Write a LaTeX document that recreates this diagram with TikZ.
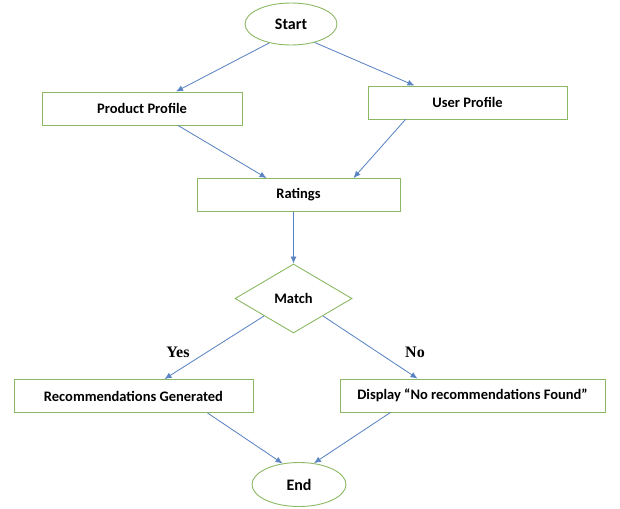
\documentclass[tikz,border=0pt]{standalone}
\usepackage{fontspec}
\setmainfont{Carlito}
\newfontfamily\labelfont{Liberation Serif}
\usetikzlibrary{shapes.geometric, arrows.meta, positioning}
\definecolor{BoxGreen}{HTML}{8CB863}
\definecolor{LineBlue}{HTML}{5B84C4}
\tikzset{
  terminal/.style={ellipse, draw=BoxGreen, line width=0.9pt, minimum width=92pt, minimum height=42pt, inner sep=0pt, font=\bfseries\fontsize{16}{18}\selectfont},
  process/.style={rectangle, draw=BoxGreen, line width=0.9pt, minimum height=33pt, inner sep=0pt, align=center, font=\bfseries\fontsize{14.5}{17}\selectfont},
  decision/.style={diamond, draw=BoxGreen, line width=0.9pt, minimum width=117pt, minimum height=69pt, aspect=1.7, inner sep=0pt, font=\bfseries\fontsize{14.5}{17}\selectfont},
  arrow/.style={-{Latex[length=7pt,width=6pt]}, draw=LineBlue, fill=LineBlue, line width=0.8pt},
  answer/.style={font=\labelfont\bfseries\fontsize{16}{18}\selectfont}
}

\begin{document}
\begin{tikzpicture}[x=1pt, y=-1pt]
            \useasboundingbox (0,0) rectangle (620,508);
            \node (start) [terminal] at (291,24) {Start};
            \node (product) [process, minimum width=200pt] at (142,108.5) {Product Profile};
            \node (user) [process, minimum width=199pt] at (467.5,102.5) {User Profile};
            \node (ratings) [process, minimum width=203pt] at (298.5,195) {Ratings};
            \node (match) [decision] at (293.5,298.5) {Match};
            \node (found) [process, minimum width=239pt] at (133.5,396) {Recommendations Generated};
            \node (notfound) [process, minimum width=265pt] at (472.5,395.5) {Display “No recommendations Found”};
            \node (end) [terminal, minimum width=94pt, minimum height=44pt] at (299,484.5) {End};
            \node (yes) [answer] at (178,352) {Yes};
            \node (no) [answer] at (415,352) {No};
            \draw [arrow] (start.221) -- ([xshift=34pt]product.north);
            \draw [arrow] (start.322) -- ([xshift=-53pt]user.north);
            \draw [arrow] ([xshift=36pt]product.south) -- ([xshift=-32pt]ratings.north);
            \draw [arrow] ([xshift=-62pt]user.south) -- ([xshift=55pt]ratings.north);
            \draw [arrow] ([xshift=-5pt]ratings.south) -- (match.north);
            \draw [arrow] (match.south west) -- ([xshift=31pt]found.north);
            \draw [arrow] (match.south east) -- ([xshift=-55pt]notfound.north);
            \draw [arrow] ([xshift=74pt]found.south) -- (end.128);
            \draw [arrow] ([xshift=-82pt]notfound.south) -- (end.55);
        \end{tikzpicture}
\end{document}
